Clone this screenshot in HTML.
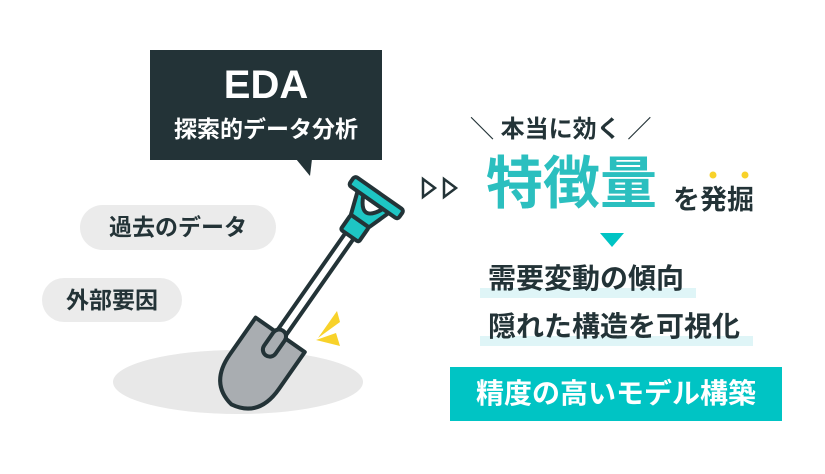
<!DOCTYPE html>
<html><head><meta charset="utf-8"><style>
body{margin:0;width:825px;height:474px;background:#fff;overflow:hidden;position:relative;font-family:"Liberation Sans","Noto Sans CJK JP",sans-serif;}
.a{position:absolute;white-space:nowrap;}
</style></head><body>
<svg class="a" style="left:0;top:0" width="825" height="474">
<ellipse cx="238" cy="382" rx="125" ry="32" fill="#e8e8e8"/>
<rect x="150" y="50" width="232" height="110" fill="#233337"/>
<polygon points="296,159 312,159 310,176" fill="#233337"/>
<rect x="80" y="205" width="196" height="45" rx="22.5" fill="#ebebeb"/>
<rect x="42" y="278" width="140" height="44" rx="22" fill="#ebebeb"/>
<g transform="translate(306,298) rotate(35)" stroke="#233337" stroke-width="4" stroke-linejoin="round">
<rect x="-5" y="-80" width="10" height="150" fill="#fff"/>
<rect x="-11" y="-94" width="22" height="18" rx="2" fill="#1ec6c4"/>
<path d="M-20,-120 L20,-120 L11,-94 L-11,-94 Z" fill="#1ec6c4"/>
<path d="M-12,-117 Q0,-92 12,-117 Z" fill="#fff"/>
<rect x="-30" y="-128" width="60" height="11" rx="3" fill="#1ec6c4"/>
<path d="M-30,45 L30,45 L30,90 Q30,125 0,130 Q-30,125 -30,90 Z" fill="#a9adb1"/>
<rect x="-7" y="40" width="14" height="30" rx="7" fill="#a9adb1"/>
</g>
<polygon points="337,311 318,338 340,322" fill="#f8d22a"/>
<polygon points="316,340 336,333 340,346" fill="#f8d22a"/>
<path d="M423,179 L435,188 L423,197 Z M444,179 L456,188 L444,197 Z" fill="none" stroke="#233337" stroke-width="2.5"/>
<circle cx="713" cy="175" r="3.5" fill="#f8d22a"/><circle cx="745" cy="175" r="3.5" fill="#f8d22a"/>
<polygon points="600,233 624,233 612,247" fill="#00c4c4"/>
<rect x="480" y="288" width="216" height="10" fill="#dff5f7"/>
<rect x="480" y="336" width="273" height="10" fill="#dff5f7"/>
<rect x="450" y="367" width="332" height="54" fill="#00c4c4"/>
</svg>
<div class="a" style="left:150px;top:62px;width:232px;text-align:center;color:#fff;font-size:40px;font-weight:bold;line-height:46px">EDA</div>
<div class="a" style="left:150px;top:114px;width:232px;text-align:center;color:#fff;font-size:23px;font-weight:bold;line-height:30px">探索的データ分析</div>
<div class="a" style="left:80px;top:205px;width:196px;text-align:center;color:#233337;font-size:23px;font-weight:bold;line-height:45px">過去のデータ</div>
<div class="a" style="left:42px;top:278px;width:140px;text-align:center;color:#233337;font-size:23px;font-weight:bold;line-height:44px">外部要因</div>
<div class="a" style="left:470px;top:115px;color:#233337;font-size:24px;font-weight:bold;line-height:30px">＼ 本当に効く ／</div>
<div class="a" style="left:486px;top:150px;color:#2bbfbf;font-size:57px;font-weight:bold;line-height:68px">特徴量</div>
<div class="a" style="left:673px;top:182px;color:#233337;font-size:27px;font-weight:bold;line-height:36px">を発掘</div>
<div class="a" style="left:488px;top:262px;color:#233337;font-size:28px;font-weight:bold;line-height:34px">需要変動の傾向</div>
<div class="a" style="left:488px;top:310px;color:#233337;font-size:28px;font-weight:bold;line-height:34px">隠れた構造を可視化</div>
<div class="a" style="left:450px;top:367px;width:332px;text-align:center;color:#fff;font-size:28px;font-weight:bold;line-height:54px">精度の高いモデル構築</div>
</body></html>
